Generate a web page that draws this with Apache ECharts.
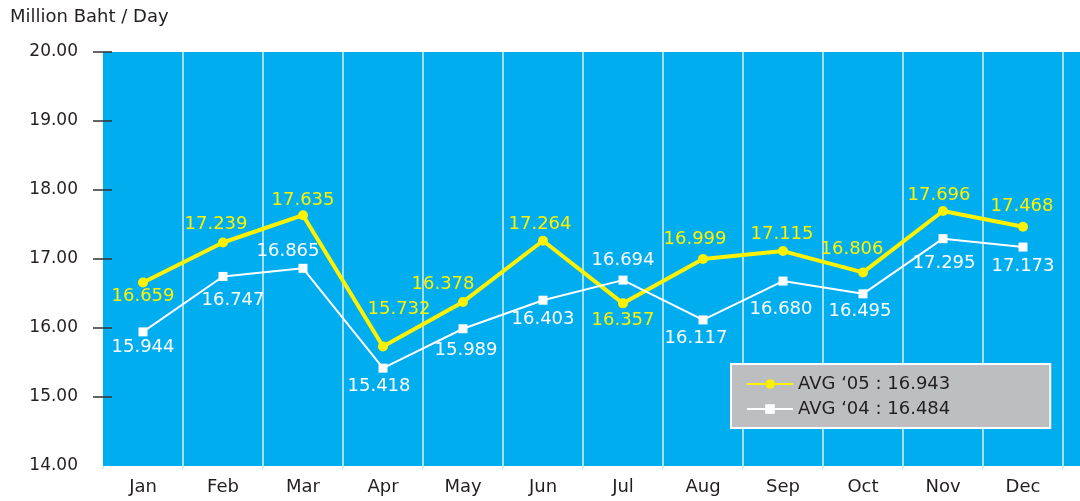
<!DOCTYPE html>
<html>
<head>
<meta charset="utf-8">
<script src="https://cdn.jsdelivr.net/npm/echarts@6/dist/echarts.min.js"></script>
<style>
html,body{margin:0;padding:0;background:#fff;}
#chart{width:1080px;height:501px;}
</style>
</head>
<body>
<div id="chart"></div>
<script>
const months = ['Jan','Feb','Mar','Apr','May','Jun','Jul','Aug','Sep','Oct','Nov','Dec'];
const avg05 = [16.659,17.239,17.635,15.732,16.378,17.264,16.357,16.999,17.115,16.806,17.696,17.468];
const avg04 = [15.944,16.747,16.865,15.418,15.989,16.403,16.694,16.117,16.680,16.495,17.295,17.173];
const name05 = 'AVG \u201805 : 16.943';
const name04 = 'AVG \u201804 : 16.484';
const yTicks = [15,16,17,18,19,20];

// label placement (style only)
const pos05 = ['bottom','top','top','top','top','top','bottom','top','top','top','top','top'];
const pos04 = ['bottom','bottom','top','bottom','bottom','bottom','top','bottom','bottom','bottom','bottom','bottom'];
const off05 = [[0,0],[-7,0],[0,3],[16,-19],[-20,0],[-3,2],[0,3],[-8,-2],[-1,1],[-11,-5],[-4,2],[-1,-2]];
const off04 = [[0,1],[10,9],[-15,1],[-4,4],[3,7],[0,5],[0,-2],[-7,4],[-2,14],[-3,3],[1,10],[0,5]];

const FONT = 'DejaVu Sans';
const TXT = '#231f20';

function items(vals, pos, off, dTop, dBot){
  return vals.map((v,i)=>({
    value: v,
    label: {position: pos[i], distance: pos[i]==='top'?dTop:dBot, offset: off[i]}
  }));
}

const chart = echarts.init(document.getElementById('chart'));
chart.setOption({
  animation:false,
  backgroundColor:'#ffffff',
  title:{text:'Million Baht / Day',left:5,top:3,textStyle:{fontFamily:FONT,fontSize:18,fontWeight:'normal',color:TXT}},
  graphic:[{type:'rect',z:-10,shape:{x:103,y:52,width:977,height:414},style:{fill:'#00aeef'},silent:true}],
  grid:{left:103,right:17,top:52,bottom:35,containLabel:false},
  legend:{
    orient:'vertical',left:731,top:364,
    backgroundColor:'#bcbec0',borderColor:'#ffffff',borderWidth:2,
    padding:[11,100,10,15],itemGap:7,itemWidth:46,itemHeight:12,
    data:[name05,name04],
    textStyle:{fontFamily:FONT,fontSize:18,color:TXT}
  },
  xAxis:{
    type:'category',data:months,boundaryGap:true,
    axisLine:{show:false},
    axisTick:{show:true,length:3,lineStyle:{color:'#cdeefb',width:2}},
    axisLabel:{fontFamily:FONT,fontSize:18,color:TXT,margin:12},
    splitLine:{show:true,showMinLine:false,showMaxLine:true,lineStyle:{color:'#a3def6',width:2}}
  },
  yAxis:[{
    type:'value',min:14,max:20,interval:1,
    axisLine:{show:false},
    axisTick:{show:true,length:10,customValues:yTicks,lineStyle:{color:'#333333',width:1.5}},
    axisLabel:{fontFamily:FONT,fontSize:17,color:TXT,margin:25,formatter:v=>v.toFixed(2)},
    splitLine:{show:false}
  },{
    type:'value',min:14,max:20,interval:1,position:'left',
    axisLine:{show:false},
    axisTick:{show:true,inside:true,length:9,customValues:yTicks,lineStyle:{color:'#333333',width:1.5}},
    axisLabel:{show:false},
    splitLine:{show:false}
  }],
  series:[{
    name:name05,type:'line',z:3,
    data:items(avg05,pos05,off05,4,0),
    symbol:'circle',symbolSize:10,
    itemStyle:{color:'#fff200'},
    lineStyle:{color:'#fff200',width:4},
    label:{show:true,color:'#fff200',fontFamily:FONT,fontSize:18,formatter:p=>p.value.toFixed(3)}
  },{
    name:name04,type:'line',z:4,
    data:items(avg04,pos04,off04,4,1),
    symbol:'rect',symbolSize:9,
    itemStyle:{color:'#ffffff'},
    lineStyle:{color:'#ffffff',width:2},
    label:{show:true,color:'#ffffff',fontFamily:FONT,fontSize:18,formatter:p=>p.value.toFixed(3)}
  }]
});
</script>
</body>
</html>
